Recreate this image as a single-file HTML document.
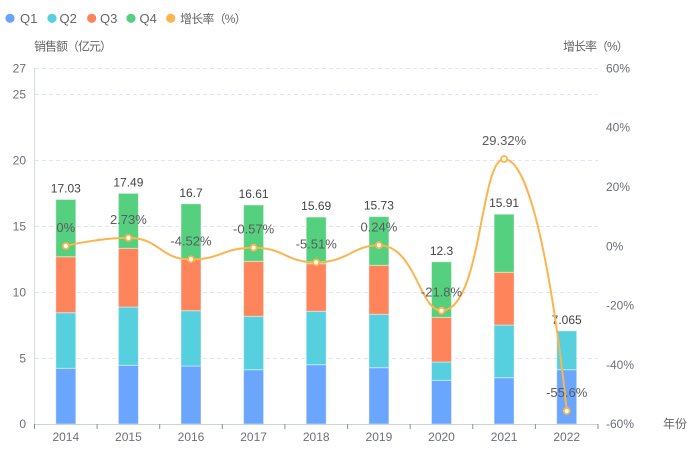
<!DOCTYPE html>
<html><head><meta charset="utf-8"><style>
html,body{margin:0;padding:0;background:#fff;}
svg{display:block;font-family:"Liberation Sans","Noto Sans CJK SC",sans-serif;}
</style></head><body>
<svg width="696" height="450" viewBox="0 0 696 450" xmlns="http://www.w3.org/2000/svg">
<!-- legend -->
<g font-size="13" fill="#666">
<circle cx="10" cy="18.3" r="4.6" fill="#6aa3fb"/><text x="20" y="23">Q1</text>
<circle cx="52" cy="18.3" r="4.6" fill="#5acfdf"/><text x="59.5" y="23">Q2</text>
<circle cx="91.7" cy="18.3" r="4.6" fill="#fe845d"/><text x="100" y="23">Q3</text>
<circle cx="131" cy="18.3" r="4.6" fill="#55cf7f"/><text x="139.5" y="23">Q4</text>
<circle cx="170.7" cy="18.3" r="4.6" fill="#fdb54f"/><text x="180" y="23" font-size="12" letter-spacing="-0.8">增长率（%）</text>
</g>
<!-- axis names -->
<text x="34" y="50.5" font-size="12" fill="#666" letter-spacing="-1">销售额（亿元）</text>
<text x="563" y="50.5" font-size="12" fill="#666" letter-spacing="-1">增长率（%）</text>
<text x="663" y="428" font-size="12" fill="#666">年份</text>
<!-- grid -->
<g stroke="#e0e6f1" stroke-width="1" stroke-dasharray="4,3">
<line x1="35" y1="68.5" x2="598" y2="68.5"/>
<line x1="35" y1="94.5" x2="598" y2="94.5"/>
<line x1="35" y1="160.5" x2="598" y2="160.5"/>
<line x1="35" y1="226.5" x2="598" y2="226.5"/>
<line x1="35" y1="292.5" x2="598" y2="292.5"/>
<line x1="35" y1="358.5" x2="598" y2="358.5"/>
</g>
<!-- left labels -->
<g font-size="12" fill="#6e7079" text-anchor="end">
<text x="26" y="72.5">27</text>
<text x="26" y="98.5">25</text>
<text x="26" y="164.5">20</text>
<text x="26" y="230.5">15</text>
<text x="26" y="296.5">10</text>
<text x="26" y="362.5">5</text>
<text x="26" y="428">0</text>
</g>
<!-- right labels -->
<g font-size="12" fill="#6e7079">
<text x="606" y="72.5">60%</text>
<text x="606" y="131.5">40%</text>
<text x="606" y="191">20%</text>
<text x="606" y="250.5">0%</text>
<text x="606" y="309.5">-20%</text>
<text x="606" y="369">-40%</text>
<text x="606" y="428">-60%</text>
</g>
<!-- bars -->
<g stroke="rgba(255,255,255,0.45)" stroke-width="1">
<!-- 2014 -->
<rect x="55.8" y="368.3" width="20" height="55.7" fill="#6aa5fe"/>
<rect x="55.8" y="312.7" width="20" height="55.6" fill="#56d0de"/>
<rect x="55.8" y="256.7" width="20" height="56" fill="#fe845b"/>
<rect x="55.8" y="199.5" width="20" height="57.2" fill="#55d07f"/>
<!-- 2015 -->
<rect x="118.4" y="365.3" width="20" height="58.7" fill="#6aa5fe"/>
<rect x="118.4" y="307" width="20" height="58.3" fill="#56d0de"/>
<rect x="118.4" y="248.3" width="20" height="58.7" fill="#fe845b"/>
<rect x="118.4" y="193.4" width="20" height="54.9" fill="#55d07f"/>
<!-- 2016 -->
<rect x="181" y="366" width="20" height="58" fill="#6aa5fe"/>
<rect x="181" y="310.7" width="20" height="55.3" fill="#56d0de"/>
<rect x="181" y="259.3" width="20" height="51.4" fill="#fe845b"/>
<rect x="181" y="203.8" width="20" height="55.5" fill="#55d07f"/>
<!-- 2017 -->
<rect x="243.6" y="369.7" width="20" height="54.3" fill="#6aa5fe"/>
<rect x="243.6" y="316.3" width="20" height="53.4" fill="#56d0de"/>
<rect x="243.6" y="261.3" width="20" height="55" fill="#fe845b"/>
<rect x="243.6" y="205" width="20" height="56.3" fill="#55d07f"/>
<!-- 2018 -->
<rect x="306.2" y="364.7" width="20" height="59.3" fill="#6aa5fe"/>
<rect x="306.2" y="311.3" width="20" height="53.4" fill="#56d0de"/>
<rect x="306.2" y="263.7" width="20" height="47.6" fill="#fe845b"/>
<rect x="306.2" y="217.1" width="20" height="46.6" fill="#55d07f"/>
<!-- 2019 -->
<rect x="368.9" y="367.7" width="20" height="56.3" fill="#6aa5fe"/>
<rect x="368.9" y="314.3" width="20" height="53.4" fill="#56d0de"/>
<rect x="368.9" y="265.3" width="20" height="49" fill="#fe845b"/>
<rect x="368.9" y="216.6" width="20" height="48.7" fill="#55d07f"/>
<!-- 2020 -->
<rect x="431.5" y="380.3" width="20" height="43.7" fill="#6aa5fe"/>
<rect x="431.5" y="362" width="20" height="18.3" fill="#56d0de"/>
<rect x="431.5" y="317.3" width="20" height="44.7" fill="#fe845b"/>
<rect x="431.5" y="261.8" width="20" height="55.5" fill="#55d07f"/>
<!-- 2021 -->
<rect x="494.1" y="377.7" width="20" height="46.3" fill="#6aa5fe"/>
<rect x="494.1" y="325" width="20" height="52.7" fill="#56d0de"/>
<rect x="494.1" y="272.3" width="20" height="52.7" fill="#fe845b"/>
<rect x="494.1" y="214.2" width="20" height="58.1" fill="#55d07f"/>
<!-- 2022 -->
<rect x="556.7" y="369.7" width="20" height="54.3" fill="#6aa5fe"/>
<rect x="556.7" y="330.8" width="20" height="38.9" fill="#56d0de"/>
</g>
<!-- axes -->
<line x1="34.5" y1="68" x2="34.5" y2="424" stroke="#d3dcdc" stroke-width="1"/>
<line x1="34.5" y1="424.5" x2="598" y2="424.5" stroke="#ccd5d5" stroke-width="1"/>
<g stroke="#8a9090" stroke-width="1">
<line x1="34.5" y1="424" x2="34.5" y2="429"/>
<line x1="97.1" y1="424" x2="97.1" y2="429"/>
<line x1="159.7" y1="424" x2="159.7" y2="429"/>
<line x1="222.3" y1="424" x2="222.3" y2="429"/>
<line x1="284.9" y1="424" x2="284.9" y2="429"/>
<line x1="347.6" y1="424" x2="347.6" y2="429"/>
<line x1="410.2" y1="424" x2="410.2" y2="429"/>
<line x1="472.8" y1="424" x2="472.8" y2="429"/>
<line x1="535.4" y1="424" x2="535.4" y2="429"/>
<line x1="598" y1="424" x2="598" y2="429"/>
</g>
<g font-size="12" fill="#6e7079" text-anchor="middle">
<text x="65.8" y="441">2014</text>
<text x="128.4" y="441">2015</text>
<text x="191" y="441">2016</text>
<text x="253.6" y="441">2017</text>
<text x="316.2" y="441">2018</text>
<text x="378.9" y="441">2019</text>
<text x="441.5" y="441">2020</text>
<text x="504.1" y="441">2021</text>
<text x="566.7" y="441">2022</text>
</g>
<!-- total labels -->
<g font-size="12" fill="#444" text-anchor="middle">
<text x="65.8" y="192.5">17.03</text>
<text x="128.4" y="186.4">17.49</text>
<text x="191" y="196.8">16.7</text>
<text x="253.6" y="198">16.61</text>
<text x="316.2" y="210.1">15.69</text>
<text x="378.9" y="209.6">15.73</text>
<text x="441.5" y="254.8">12.3</text>
<text x="504.1" y="207.2">15.91</text>
<text x="566.7" y="323.8">7.065</text>
</g>
<!-- growth line -->
<path d="M65.8,246 C65.8,246 97.85,237.9 128.4,237.9 C160.44,237.9 159.10,259.41 191,259.41 C221.69,259.41 222.45,247.69 253.6,247.69 C285.04,247.69 285.04,262.35 316.2,262.35 C347.69,262.35 352.72,245.29 378.9,245.29 C415.37,245.29 419.24,310.68 441.5,310.68 C481.85,310.68 479.86,159.01 504.1,159.01 C542.46,159.01 566.7,410.97 566.7,410.97" fill="none" stroke="#fbb44e" stroke-width="2"/>
<g fill="#fff" stroke="#fbb44e" stroke-width="1.8">
<circle cx="65.8" cy="246" r="3"/>
<circle cx="128.4" cy="237.9" r="3"/>
<circle cx="191" cy="259.41" r="3"/>
<circle cx="253.6" cy="247.69" r="3"/>
<circle cx="316.2" cy="262.35" r="3"/>
<circle cx="378.9" cy="245.29" r="3"/>
<circle cx="441.5" cy="310.68" r="3"/>
<circle cx="504.1" cy="159.01" r="3"/>
<circle cx="566.7" cy="410.97" r="3"/>
</g>
<g font-size="13" fill="#5c5c5c" text-anchor="middle">
<text x="65.8" y="232">0%</text>
<text x="128.4" y="223.9">2.73%</text>
<text x="191" y="245.4">-4.52%</text>
<text x="253.6" y="233.7">-0.57%</text>
<text x="316.2" y="248.3">-5.51%</text>
<text x="378.9" y="231.3">0.24%</text>
<text x="441.5" y="296.7">-21.8%</text>
<text x="504.1" y="145">29.32%</text>
<text x="566.7" y="397">-55.6%</text>
</g>
</svg>
</body></html>
